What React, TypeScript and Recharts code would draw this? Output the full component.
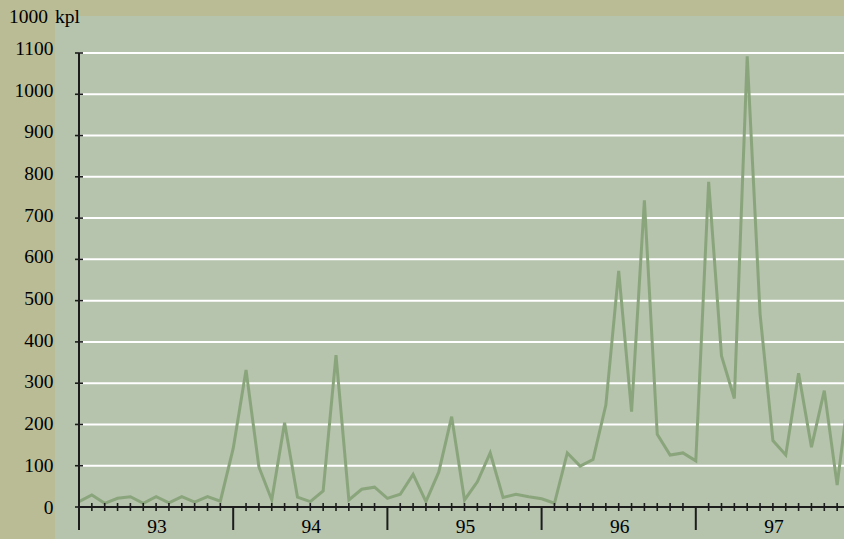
import { CartesianGrid, Line, LineChart, XAxis, YAxis } from "recharts";

// monthly values, 1000 kpl
const yearLabels = ["93", "94", "95", "96", "97"];
const sales93 = [13, 29, 9, 21, 25, 9, 25, 10, 25, 12, 25, 14];
const sales94 = [142, 332, 97, 17, 204, 24, 13, 39, 368, 17, 43, 48];
const sales95 = [21, 31, 79, 13, 85, 219, 17, 61, 131, 23, 31, 25];
const sales96 = [20, 9, 131, 99, 115, 247, 572, 231, 743, 176, 126, 131];
const sales97 = [112, 788, 366, 263, 1092, 468, 161, 126, 324, 145, 282, 53];
const sales98 = [300];
const yTicks = [0, 100, 200, 300, 400, 500, 600, 700, 800, 900, 1000, 1100];
const unitLabel = "1000 kpl";

const years = [sales93, sales94, sales95, sales96, sales97, sales98];
const data = years.flatMap((arr, y) =>
  arr.map((v, k) => ({ m: y * 12 + k, value: v }))
);
const monthTicks = Array.from({ length: 61 }, (_, i) => i);

const OUTER = "#b9bc95";
const PLOT = "#b6c3ad";
const LINE = "#8aa57c";
const AXIS = "#1c1c1c";
const FONT = "Liberation Serif, DejaVu Serif, Times New Roman, serif";

function XTick({ x, y, payload }: any) {
  const v = payload.value as number;
  const major = v % 12 === 0;
  const label = v % 12 === 6 ? yearLabels[(v - 6) / 12] : null;
  return (
    <g>
      {major ? (
        <line x1={x} x2={x} y1={y} y2={y + 23} stroke={AXIS} strokeWidth={2} />
      ) : (
        <line x1={x} x2={x} y1={y - 4} y2={y + 4} stroke={AXIS} strokeWidth={1.6} />
      )}
      {label && (
        <text
          x={x + 1}
          y={y + 26}
          textAnchor="middle"
          fill="#000"
          style={{ fontFamily: FONT, fontSize: 19.5 }}
        >
          {label}
        </text>
      )}
    </g>
  );
}

function YTick({ x, y, payload }: any) {
  const v = payload.value as number;
  return (
    <g>
      <line x1={x - 4} x2={x + 4} y1={y} y2={y} stroke={AXIS} strokeWidth={1.6} />
      <text
        x={x - 25.5}
        y={y + 6.5 - v * 0.004}
        textAnchor="end"
        fill="#000"
        style={{ fontFamily: FONT, fontSize: 19.5 }}
      >
        {v}
      </text>
    </g>
  );
}

export default function App() {
  return (
    <div
      style={{
        position: "absolute",
        left: 0,
        top: 0,
        width: 844,
        height: 539,
        overflow: "hidden",
        background: OUTER,
      }}
    >
      <div
        style={{
          position: "absolute",
          left: 55,
          top: 16,
          width: 789,
          height: 523,
          background: PLOT,
        }}
      />
      <div
        style={{
          position: "absolute",
          left: 9,
          top: 5,
          fontFamily: FONT,
          fontSize: 19.5,
          lineHeight: "24px",
          wordSpacing: 2,
          color: "#000",
        }}
      >
        {unitLabel}
      </div>
      <div style={{ position: "absolute", left: 0, top: 0 }}>
        <LineChart
          width={860}
          height={539}
          data={data}
          margin={{ top: 53, right: 10, bottom: 0, left: 0 }}
        >
          <CartesianGrid vertical={false} stroke="#ffffff" strokeWidth={2} />
          <XAxis
            dataKey="m"
            type="number"
            domain={[0, 60]}
            ticks={monthTicks}
            interval={0}
            height={32}
            tickSize={0}
            tickMargin={0}
            tickLine={false}
            axisLine={{ stroke: AXIS, strokeWidth: 2 }}
            tick={<XTick />}
          />
          <YAxis
            type="number"
            domain={[0, 1100]}
            ticks={yTicks}
            interval={0}
            width={79}
            tickSize={0}
            tickMargin={0}
            tickLine={false}
            axisLine={{ stroke: AXIS, strokeWidth: 2 }}
            tick={<YTick />}
          />
          <Line
            type="linear"
            dataKey="value"
            stroke={LINE}
            strokeWidth={3}
            dot={false}
            isAnimationActive={false}
          />
        </LineChart>
      </div>
    </div>
  );
}
